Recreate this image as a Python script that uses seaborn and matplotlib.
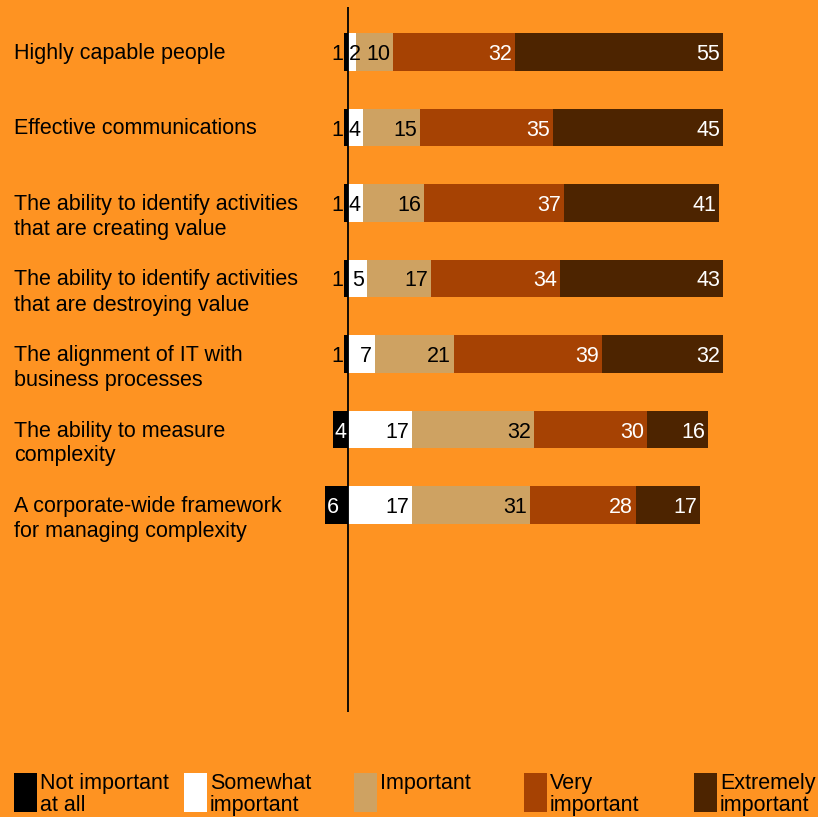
import matplotlib
matplotlib.use("Agg")
import matplotlib.pyplot as plt
import seaborn as sns
import numpy as np
import pandas as pd
from matplotlib.patches import Rectangle

categories = [
    "Highly capable people",
    "Effective communications",
    "The ability to identify activities\nthat are creating value",
    "The ability to identify activities\nthat are destroying value",
    "The alignment of IT with\nbusiness processes",
    "The ability to measure\ncomplexity",
    "A corporate-wide framework\nfor managing complexity",
]
not_important = [1, 1, 1, 1, 1, 4, 6]
somewhat = [2, 4, 4, 5, 7, 17, 17]
important = [10, 15, 16, 17, 21, 32, 31]
very = [32, 35, 37, 34, 39, 30, 28]
extremely = [55, 45, 41, 43, 32, 16, 17]

legend_labels = ["Not important\nat all", "Somewhat\nimportant", "Important",
                 "Very\nimportant", "Extremely\nimportant"]
colors = ["#000000", "#FFFFFF", "#CEA262", "#A64203", "#4D2400"]
text_colors = ["#000000", "#000000", "#000000", "#FFFFFF", "#FFFFFF"]
BG = "#FE9322"

sns.set_theme(style="white")
plt.rcParams['font.family'] = ['Liberation Sans', 'DejaVu Sans']

W, H = 818, 817
fig = plt.figure(figsize=(W / 100, H / 100), dpi=100, facecolor=BG)
ax = fig.add_axes([320 / W, 1 - 712 / H, 440 / W, 705 / H])
ax.set_facecolor(BG)

pos_series = [somewhat, important, very, extremely]
pos_colors = colors[1:]
cums = np.cumsum(np.array(pos_series), axis=0)

df = pd.DataFrame({"cat": categories})
# draw cumulative layers largest first
for k in range(len(pos_series) - 1, -1, -1):
    d = df.copy()
    d["v"] = cums[k]
    sns.barplot(data=d, x="v", y="cat", orient="h", color=pos_colors[k],
                width=0.5, saturation=1, ax=ax, linewidth=0, zorder=2)
d = df.copy()
d["v"] = [-v for v in not_important]
sns.barplot(data=d, x="v", y="cat", orient="h", color=colors[0],
            width=0.5, saturation=1, ax=ax, linewidth=0, zorder=2)

ax.axvline(0, color="black", lw=1.3, zorder=3)
ax.set_xlim(-28 / 3.79, 412 / 3.79)
ax.set_ylim((712 - 52) / 75.5, (7 - 52) / 75.5)
ax.set_xticks([])
ax.set_yticks([])
ax.set_xlabel("")
ax.set_ylabel("")
for s in ax.spines.values():
    s.set_visible(False)

FS = 15.5
px = 72 / 100  # points per pixel

# value labels
for i in range(len(categories)):
    v = not_important[i]
    if v >= 3:
        ax.annotate(str(v), xy=(-v, i), xytext=(1.5 * px, 0), textcoords="offset points",
                    ha="left", va="center_baseline", fontsize=FS, color="white", zorder=4)
    else:
        ax.annotate(str(v), xy=(-v, i), xytext=(-0.5 * px, 0), textcoords="offset points",
                    ha="right", va="center_baseline", fontsize=FS, color="black", zorder=4)
    start = 0
    for k, ser in enumerate(pos_series):
        val = ser[i]
        end = start + val
        if val < 3:
            ax.annotate(str(val), xy=(start, i), xytext=(0.5 * px, 0), textcoords="offset points",
                        ha="left", va="center_baseline", fontsize=FS, color=text_colors[k + 1], zorder=4)
        else:
            ax.annotate(str(val), xy=(end, i), xytext=(-3 * px, 0), textcoords="offset points",
                        ha="right", va="center_baseline", fontsize=FS, color=text_colors[k + 1], zorder=4)
        start = end

# category labels
for i, cat in enumerate(categories):
    yb = 52 + 75.5 * i + 7
    for j, line in enumerate(cat.split("\n")):
        fig.text(14 / W, 1 - (yb + 25 * j) / H, line, ha="left", va="baseline",
                 fontsize=FS, color="black")

# legend
for k, lab in enumerate(legend_labels):
    x0 = 14 + 170 * k
    fig.add_artist(Rectangle((x0 / W, 1 - 812 / H), 23 / W, 39 / H,
                             transform=fig.transFigure, facecolor=colors[k],
                             edgecolor="none"))
    for j, line in enumerate(lab.split("\n")):
        fig.text((x0 + 26) / W, 1 - (789 + 22 * j) / H, line, ha="left",
                 va="baseline", fontsize=FS, color="black")

fig.savefig("out.png", dpi=100, facecolor=BG)
